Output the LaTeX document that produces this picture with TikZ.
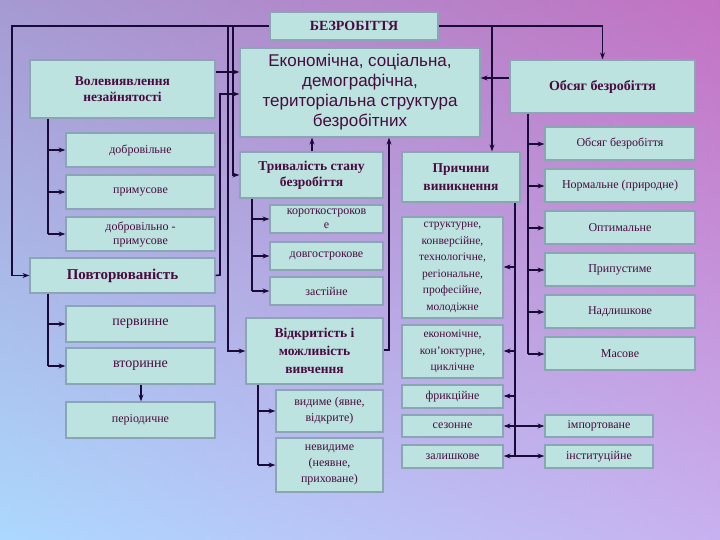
\documentclass[tikz,border=0pt]{standalone}
\usepackage{fontspec}
\setmainfont{Liberation Serif}
\newfontfamily\sansf{Liberation Sans}
\usetikzlibrary{arrows.meta}
\definecolor{bxfill}{HTML}{BCE3E0}
\definecolor{bxline}{HTML}{8AA6B4}
\definecolor{txt}{HTML}{4A0A40}
\definecolor{ln}{HTML}{1A0A3A}
\tikzset{
  box/.style={draw=bxline, line width=1.2pt, fill=bxfill, text=txt, align=center, inner sep=1pt, font=\fontsize{12}{14}\selectfont},
  bold/.style={font=\fontsize{14}{16}\selectfont\bfseries},
  arr/.style={draw=ln, line width=1.6pt, -{Stealth[length=7pt,width=5pt]}},
  ln/.style={draw=ln, line width=1.6pt}
}
\newcommand\B[7]{\node[box,#6,minimum width={(#4-#2)*1pt},minimum height={(#5-#3)*1pt}] (#1) at ({(#2+#4)/2},{(#3+#5)/2}) {#7};}
\begin{document}
\begin{tikzpicture}[x=1pt,y=-1pt]
\useasboundingbox (0,0) rectangle (720,540);
\shade[left color=blue!25!cyan!35, right color=violet!60!magenta!40] (0,0) rectangle (720,540);
\shade[top color=violet!70!white, bottom color=cyan!30!blue!30, opacity=0.5] (0,0) rectangle (720,540);
% boxes
\B{bez}{270}{12}{438}{40}{bold}{БЕЗРОБІТТЯ}
\B{eko}{240}{48}{480}{137}{font=\sansf\fontsize{17}{20}\selectfont}{Економічна, соціальна,\\демографічна,\\територіальна структура\\безробітних}
\B{obs}{510}{60}{695}{113}{bold}{Обсяг безробіття}
\B{vol}{30}{60}{215}{118}{bold,font=\fontsize{13.5}{16}\selectfont\bfseries}{Волевиявлення\\незайнятості}
\B{dob}{66}{133}{215}{167}{}{добровільне}
\B{pry}{66}{175}{215}{209}{}{примусове}
\B{dop}{66}{217}{215}{251}{}{добровільно -\\примусове}
\B{pov}{30}{258}{215}{293}{bold,font=\fontsize{15}{17}\selectfont\bfseries}{Повторюваність}
\B{per}{66}{306}{215}{342}{font=\fontsize{14}{16}\selectfont}{первинне}
\B{vto}{66}{348}{215}{384}{font=\fontsize{14}{16}\selectfont}{вторинне}
\B{pdc}{66}{402}{215}{438}{}{періодичне}
\B{try}{240}{152}{383}{198}{bold,font=\fontsize{13.5}{16}\selectfont\bfseries}{Тривалість стану\\безробіття}
\B{kor}{270}{205}{383}{233}{}{короткостроков\\е}
\B{dov}{270}{242}{383}{270}{}{довгострокове}
\B{zas}{270}{277}{383}{305}{}{застійне}
\B{vid}{246}{318}{383}{384}{bold,font=\fontsize{13.5}{18}\selectfont\bfseries}{Відкритість і\\можливість\\вивчення}
\B{vyd}{276}{390}{383}{432}{font=\fontsize{12}{16}\selectfont}{видиме (явне,\\відкрите)}
\B{nev}{276}{438}{383}{492}{font=\fontsize{12}{16}\selectfont}{невидиме\\(неявне,\\приховане)}
\B{pri}{402}{152}{520}{202}{bold,font=\fontsize{13.5}{18}\selectfont\bfseries}{Причини\\виникнення}
\B{str}{402}{217}{503}{318}{font=\fontsize{11.5}{16.5}\selectfont}{структурне,\\конверсійне,\\технологічне,\\регіональне,\\професійне,\\молодіжне}
\B{eco}{402}{325}{503}{378}{font=\fontsize{11.5}{16.5}\selectfont}{економічне,\\кон'юктурне,\\циклічне}
\B{fry}{402}{385}{503}{408}{}{фрикційне}
\B{sez}{402}{415}{503}{437}{}{сезонне}
\B{zal}{402}{445}{503}{468}{}{залишкове}
\B{ob2}{545}{127}{695}{160}{}{Обсяг безробіття}
\B{nor}{545}{169}{695}{202}{}{Нормальне (природне)}
\B{opt}{545}{211}{695}{244}{}{Оптимальне}
\B{prp}{545}{253}{695}{286}{}{Припустиме}
\B{nad}{545}{295}{695}{328}{}{Надлишкове}
\B{mas}{545}{337}{695}{370}{}{Масове}
\B{imp}{545}{415}{653}{437}{}{імпортоване}
\B{ins}{545}{445}{653}{468}{}{інституційне}
% connectors
\coordinate (t1) at (12,26);
\draw[arr] (bez.west) -- (t1) |- (pov.west);
\draw[arr] (228,26) |- (vid.west);
\draw[arr] (233,26) |- (try.west);
\draw[arr] (bez.east) -| (obs.north);
\draw[arr] (492,26) -- (pri.north -| 492,0);
\draw[arr] (vol.east |- 0,72) -- (eko.west |- 0,72);
\draw[arr] (pov.east) -- (220,275) |- (eko.west |- 0,94);
\draw[arr] (obs.west |- 0,78) -- (eko.east |- 0,78);
\draw[arr] (try.north -| 312,0) -- (eko.south -| 312,0);
\draw[arr] (vid.east |- 0,350) -- (389,350) -- (eko.south -| 389,0);
\draw[ln] (vol.south -| 48,0) -- (48,234);
\foreach \n/\y in {dob/150,pry/192,dop/234} \draw[arr] (48,\y) -- (\n.west |- 0,\y);
\draw[ln] (pov.south -| 48,0) -- (48,366);
\foreach \n/\y in {per/324,vto/366} \draw[arr] (48,\y) -- (\n.west |- 0,\y);
\draw[arr] (vto.south -| 141,0) -- (pdc.north -| 141,0);
\draw[ln] (try.south -| 252,0) -- (252,291);
\foreach \n/\y in {kor/219,dov/256,zas/291} \draw[arr] (252,\y) -- (\n.west |- 0,\y);
\draw[ln] (vid.south -| 258,0) -- (258,465);
\foreach \n/\y in {vyd/411,nev/465} \draw[arr] (258,\y) -- (\n.west |- 0,\y);
\draw[ln] (pri.south -| 515,0) -- (515,456);
\foreach \n/\y in {str/267,eco/351,fry/396,sez/426,zal/456} \draw[arr] (515,\y) -- (\n.east |- 0,\y);
\foreach \n/\y in {imp/426,ins/456} \draw[arr] (515,\y) -- (\n.west |- 0,\y);
\draw[ln] (obs.south -| 528,0) -- (528,354);
\foreach \n/\y in {ob2/144,nor/186,opt/228,prp/270,nad/312,mas/354} \draw[arr] (528,\y) -- (\n.west |- 0,\y);
\end{tikzpicture}
\end{document}
